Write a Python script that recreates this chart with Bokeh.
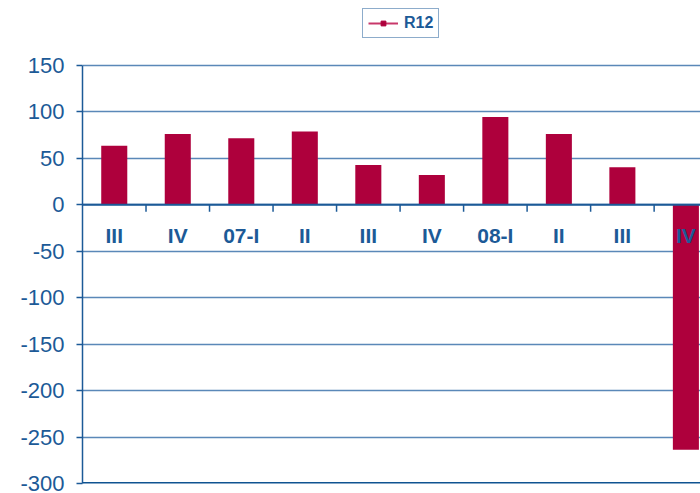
from bokeh.plotting import figure
from bokeh.models import (ColumnDataSource, Range1d, FixedTicker, Span, Legend,
                          LegendItem, PrintfTickFormatter)
from bokeh.core.properties import value
from bokeh.embed import file_html
from bokeh.resources import INLINE

# ---- data ----
categories = ["III", "IV", "07-I", "II", "III", "IV", "08-I", "II", "III", "IV"]
r12 = [63.5, 76.4, 71.8, 78.9, 43.0, 32.0, 94.7, 76.4, 40.5, -263.7]
y_ticks = [-300, -250, -200, -150, -100, -50, 0, 50, 100, 150]
series_name = "R12"

BAR = "#AE003C"
BLUE = "#1C5A97"
GRID = "#5A88B8"
FONT = "Liberation Sans"

idx = list(range(len(categories)))
src = ColumnDataSource(dict(x=idx, top=r12, label=categories,
                            zero=[0] * len(categories)))

# frame extends above the top tick to host the legend
y_top = y_ticks[-1] + 70
p = figure(width=700, height=493, output_backend="svg", toolbar_location=None,
           x_range=Range1d(-0.5, 9.23), y_range=Range1d(y_ticks[0], y_top),
           x_axis_location=None, min_border_left=82, min_border_right=0,
           min_border_top=0, min_border_bottom=10)
p.outline_line_color = None
p.background_fill_color = "white"
p.border_fill_color = "white"
p.xgrid.visible = False

# y axis
p.yaxis.ticker = FixedTicker(ticks=y_ticks)
p.yaxis.bounds = (y_ticks[0], y_ticks[-1])
p.yaxis.formatter = PrintfTickFormatter(format="%d")
p.yaxis.axis_line_color = BLUE
p.yaxis.axis_line_width = 1.5
p.yaxis.major_tick_line_color = BLUE
p.yaxis.major_tick_line_width = 1.5
p.yaxis.major_tick_out = 6
p.yaxis.major_tick_in = 0
p.yaxis.minor_tick_line_color = None
p.yaxis.major_label_text_font = FONT
p.yaxis.major_label_text_font_size = "22px"
p.yaxis.major_label_text_color = BLUE
p.yaxis.major_label_standoff = 12

p.ygrid.ticker = FixedTicker(ticks=y_ticks)
p.ygrid.grid_line_color = GRID
p.ygrid.grid_line_width = 1.5

# bars
p.vbar(x="x", top="top", bottom=0, width=0.41, source=src,
       fill_color=BAR, line_color=None)

# zero line and bottom line
p.add_layout(Span(location=0, dimension="width", line_color=BLUE, line_width=2))
p.add_layout(Span(location=y_ticks[0], dimension="width", line_color="#0F5391",
                  line_width=3))

# category boundary ticks below zero line
bounds = [i + 0.5 for i in idx[:-1]]
p.segment(x0=bounds, x1=bounds, y0=[0] * len(bounds), y1=[-7.5] * len(bounds),
          line_color=BLUE, line_width=1.5)

# category labels
p.text(x="x", y="zero", text="label", source=src, y_offset=31,
       text_align="center", text_baseline="middle",
       text_font=value(FONT), text_font_size="21px", text_font_style="bold",
       text_color=BLUE)

# legend (line + square marker); proxy renderers placed outside the view
proxy = ColumnDataSource(dict(x=[-50, -49], y=[-5000, -5000]))
lr = p.line(x="x", y="y", source=proxy, line_color="#C8386A", line_width=2)
sr = p.scatter(x="x", y="y", source=proxy, marker="square", size=8,
               fill_color=BAR, line_color=BAR)
legend = Legend(items=[LegendItem(label=series_name, renderers=[lr, sr])],
                location=(280, 445), orientation="horizontal",
                glyph_width=30, glyph_height=12, padding=5, margin=0,
                label_standoff=6, label_text_font=FONT,
                label_text_font_size="16px", label_text_font_style="bold",
                label_text_color=BLUE, border_line_color=BLUE,
                border_line_width=1.5, background_fill_color="white")
p.add_layout(legend, "center")

open("out.html", "w").write(file_html(p, INLINE))
